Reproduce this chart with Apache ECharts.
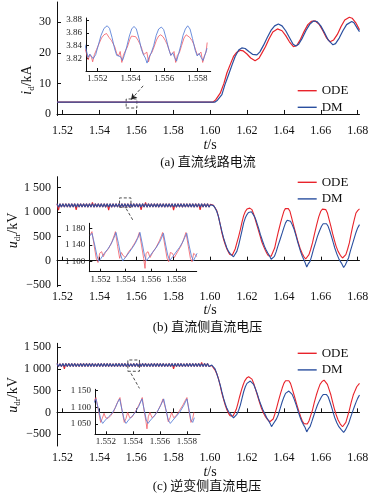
<!DOCTYPE html>
<html><head><meta charset="utf-8">
<script src="https://cdn.jsdelivr.net/npm/echarts@6/dist/echarts.min.js"></script>
<style>html,body{margin:0;padding:0;background:#fff}#c{width:373px;height:499px}</style>
</head><body><div id="c"></div>
<script>
// ---------- tick labels ----------
const xTicks = [1.52,1.54,1.56,1.58,1.60,1.62,1.64,1.66,1.68];
const insetXTicks = [1.552,1.554,1.556,1.558];
const yTicksA = [0,10,20,30];
const yTicksBC = [-500,0,500,1000,1500];
const insetYTicksA = [3.82,3.84,3.86,3.88];
const insetYTicksB = [1100,1140,1180];
const insetYTicksC = [1050,1100,1150];
const seriesNames = ['ODE','DM'];

// ---------- (a) DC line current, kA ----------
const odeA = [[1.517,3.84],[1.560,3.84],[1.6015,3.84],[1.603,4.6],[1.6055,6.8],[1.6075,10],[1.6091,13.4],[1.611,16.3],[1.6127,18.8],[1.6145,20.2],[1.6165,20.8],[1.618,20.6],[1.620,19.6],[1.622,18.3],[1.6244,17.4],[1.6265,18.2],[1.628,19.8],[1.630,22.0],[1.632,24.6],[1.634,26.8],[1.6365,27.8],[1.639,27.2],[1.641,25.6],[1.643,23.6],[1.6452,22.0],[1.647,22.4],[1.649,24.4],[1.651,27.0],[1.653,29.2],[1.655,30.3],[1.657,30.4],[1.659,29.4],[1.661,27.4],[1.663,25.0],[1.665,23.6],[1.667,24.2],[1.669,26.0],[1.671,28.6],[1.673,30.7],[1.6755,31.6],[1.677,31.3],[1.679,29.8],[1.681,27.5]];
const dmA = [[1.517,3.84],[1.560,3.84],[1.6025,3.84],[1.604,4.5],[1.6064,6.3],[1.608,9.5],[1.610,12.8],[1.612,16.2],[1.6136,18.8],[1.6155,20.9],[1.6172,21.6],[1.619,21.4],[1.621,20.4],[1.623,19.5],[1.6254,19.3],[1.627,20.3],[1.629,22.5],[1.631,25.0],[1.633,27.3],[1.635,28.8],[1.637,29.4],[1.639,28.8],[1.641,27.2],[1.643,25.0],[1.645,22.8],[1.6465,22.2],[1.648,22.8],[1.650,24.8],[1.652,27.3],[1.654,29.3],[1.656,30.4],[1.658,30.2],[1.660,28.8],[1.662,26.6],[1.664,24.2],[1.6666,22.6],[1.668,23.0],[1.670,24.8],[1.672,27.2],[1.674,29.2],[1.6768,30.2],[1.678,29.8],[1.680,27.8],[1.681,26.9]];
const insOdeA = [[1.55125,3.836],[1.55135,3.828],[1.55145,3.818],[1.55155,3.826],[1.55165,3.822],[1.55172,3.815],[1.55182,3.826],[1.55195,3.834],[1.55210,3.843],[1.55225,3.852],[1.55240,3.857],[1.55255,3.859],[1.55270,3.853],[1.55285,3.848],[1.55295,3.843],[1.55305,3.838],[1.55316,3.828],[1.55327,3.824],[1.55337,3.831],[1.55347,3.814],[1.55357,3.826],[1.55368,3.829],[1.55380,3.838],[1.55395,3.850],[1.55405,3.855],[1.55416,3.857],[1.55430,3.854],[1.55445,3.848],[1.55455,3.843],[1.55466,3.836],[1.55477,3.826],[1.55488,3.824],[1.55497,3.830],[1.55507,3.815],[1.55517,3.826],[1.55528,3.830],[1.55540,3.838],[1.55555,3.849],[1.55568,3.855],[1.55580,3.857],[1.55594,3.854],[1.55608,3.848],[1.55619,3.842],[1.55630,3.834],[1.55641,3.825],[1.55652,3.826],[1.55660,3.831],[1.55670,3.814],[1.55680,3.825],[1.55692,3.829],[1.55705,3.840],[1.55720,3.852],[1.55733,3.857],[1.55740,3.859],[1.55754,3.853],[1.55768,3.848],[1.55779,3.842],[1.55790,3.833],[1.55801,3.825],[1.55812,3.828],[1.55822,3.830],[1.55832,3.814],[1.55842,3.824],[1.55852,3.830],[1.55859,3.845]];
const insDmA = [[1.55125,3.842],[1.55135,3.832],[1.55145,3.822],[1.55155,3.827],[1.55165,3.826],[1.55175,3.820],[1.55190,3.826],[1.55205,3.840],[1.55222,3.856],[1.55240,3.867],[1.55259,3.871],[1.55273,3.867],[1.55288,3.853],[1.55304,3.835],[1.55316,3.825],[1.55327,3.828],[1.55339,3.823],[1.55351,3.817],[1.55362,3.825],[1.55376,3.838],[1.55392,3.855],[1.55406,3.866],[1.55420,3.870],[1.55434,3.866],[1.55449,3.852],[1.55465,3.834],[1.55477,3.826],[1.55488,3.821],[1.55498,3.813],[1.55510,3.822],[1.55522,3.828],[1.55538,3.840],[1.55553,3.856],[1.55568,3.866],[1.55584,3.869],[1.55598,3.865],[1.55613,3.851],[1.55629,3.834],[1.55641,3.825],[1.55652,3.829],[1.55663,3.822],[1.55675,3.816],[1.55686,3.826],[1.55700,3.840],[1.55714,3.856],[1.55728,3.866],[1.55742,3.871],[1.55756,3.866],[1.55771,3.851],[1.55787,3.833],[1.55799,3.824],[1.55810,3.828],[1.55822,3.822],[1.55834,3.817],[1.55846,3.826],[1.55858,3.836]];

// ---------- steady-state ripple band sample times (shared by (b),(c)) ----------
const tBand = [1.5170,1.5178,1.5186,1.5194,1.5202,1.5210,1.5218,1.5226,1.5234,1.5242,
1.5250,1.5258,1.5266,1.5274,1.5282,1.5290,1.5298,1.5306,1.5314,1.5322,
1.5330,1.5338,1.5346,1.5354,1.5362,1.5370,1.5378,1.5386,1.5394,1.5402,
1.5410,1.5418,1.5426,1.5434,1.5442,1.5450,1.5458,1.5466,1.5474,1.5482,
1.5490,1.5498,1.5506,1.5514,1.5522,1.5530,1.5538,1.5546,1.5554,1.5562,
1.5570,1.5578,1.5586,1.5594,1.5602,1.5610,1.5618,1.5626,1.5634,1.5642,
1.5650,1.5658,1.5666,1.5674,1.5682,1.5690,1.5698,1.5706,1.5714,1.5722,
1.5730,1.5738,1.5746,1.5754,1.5762,1.5770,1.5778,1.5786,1.5794,1.5802,
1.5810,1.5818,1.5826,1.5834,1.5842,1.5850,1.5858,1.5866,1.5874,1.5882,
1.5890,1.5898,1.5906,1.5914,1.5922,1.5930,1.5938,1.5946,1.5954,1.5962,
1.5970,1.5978,1.5986,1.5994,1.6002];

// ---------- (b) rectifier-side DC voltage, kV ----------
const bandDmB = [1170,1100,1168,1102,1170,1100,1172,1101,1169,1100,
1170,1102,1170,1100,1168,1101,1171,1100,1170,1102,
1169,1100,1170,1101,1172,1100,1168,1102,1170,1100,
1170,1101,1169,1100,1171,1102,1170,1100,1168,1101,
1170,1100,1172,1102,1169,1100,1170,1101,1170,1100,
1168,1102,1171,1100,1170,1101,1169,1100,1170,1102,
1172,1100,1168,1101,1170,1100,1170,1102,1169,1100,
1171,1101,1170,1100,1168,1102,1170,1100,1172,1101,
1169,1100,1170,1102,1170,1100,1168,1101,1171,1100,
1170,1102,1169,1100,1170,1101,1172,1100,1168,1102,
1170,1100,1170,1101,1150];
const bandOdeB = [1170,1040,1168,1102,1170,1100,1172,1101,1169,1100,
1170,1102,1170,1045,1168,1101,1171,1100,1170,1102,
1169,1100,1170,1101,1200,1100,1168,1102,1170,1100,
1170,1101,1169,1100,1171,1040,1170,1100,1168,1101,
1170,1100,1172,1102,1169,1100,1170,1101,1170,1100,
1168,1102,1171,1100,1170,1101,1169,1045,1170,1102,
1195,1100,1168,1101,1170,1100,1170,1102,1169,1100,
1171,1101,1170,1100,1168,1102,1170,1100,1172,1040,
1169,1100,1170,1102,1170,1100,1168,1101,1171,1100,
1170,1102,1169,1100,1170,1101,1172,1045,1168,1102,
1170,1100,1170,1101,1160];
const postOdeB = [[1.6009,1150],[1.6018,1140],[1.6027,1117],[1.6036,1030],[1.6045,912],[1.6055,740],[1.6064,570],[1.6073,440],[1.6082,329],[1.6091,240],[1.6100,171],[1.6107,125],[1.6113,103],[1.6120,110],[1.6127,144],[1.6136,240],[1.6145,364],[1.6155,500],[1.6164,638],[1.6173,790],[1.6182,926],[1.6191,1010],[1.6200,1060],[1.6206,1084],[1.6215,1080],[1.6227,1049],[1.6236,960],[1.6245,844],[1.6257,690],[1.6269,535],[1.6279,400],[1.6290,294],[1.6300,210],[1.6309,144],[1.6316,100],[1.6322,76],[1.6331,90],[1.6340,123],[1.6350,260],[1.6360,432],[1.6371,610],[1.6382,776],[1.6391,900],[1.6400,1015],[1.6408,1070],[1.6415,1097],[1.6424,1070],[1.6433,1015],[1.6443,870],[1.6454,706],[1.6465,550],[1.6476,397],[1.6488,250],[1.6500,144],[1.6509,80],[1.6518,35],[1.6527,60],[1.6536,123],[1.6545,230],[1.6555,364],[1.6566,550],[1.6578,741],[1.6589,900],[1.6600,1015],[1.6609,1060],[1.6618,1084],[1.6627,1050],[1.6636,981],[1.6645,850],[1.6655,706],[1.6664,560],[1.6673,432],[1.6683,300],[1.6694,191],[1.6706,110],[1.6718,55],[1.6727,70],[1.6736,123],[1.6745,230],[1.6755,364],[1.6764,540],[1.6773,706],[1.6782,850],[1.6791,981],[1.6800,1030],[1.6810,1063]];
const postDmB = [[1.6009,1140],[1.6018,1132],[1.6027,1084],[1.6036,1015],[1.6045,912],[1.6055,741],[1.6064,600],[1.6073,467],[1.6082,360],[1.6091,261],[1.6100,190],[1.6109,144],[1.6118,115],[1.6127,80],[1.6136,120],[1.6145,191],[1.6155,320],[1.6164,467],[1.6173,620],[1.6182,776],[1.6191,880],[1.6200,947],[1.6208,990],[1.6215,1015],[1.6224,1005],[1.6233,981],[1.6242,900],[1.6251,809],[1.6262,680],[1.6273,535],[1.6284,410],[1.6295,294],[1.6304,220],[1.6313,158],[1.6322,100],[1.6331,30],[1.6340,60],[1.6349,90],[1.6358,180],[1.6367,294],[1.6379,430],[1.6391,570],[1.6400,680],[1.6409,776],[1.6418,830],[1.6427,844],[1.6436,810],[1.6445,741],[1.6455,650],[1.6464,535],[1.6473,410],[1.6482,294],[1.6491,180],[1.6500,90],[1.6512,-10],[1.6524,-130],[1.6533,-60],[1.6542,-14],[1.6551,100],[1.6560,226],[1.6571,360],[1.6582,500],[1.6593,610],[1.6604,706],[1.6613,760],[1.6622,788],[1.6631,760],[1.6640,706],[1.6649,610],[1.6658,500],[1.6667,380],[1.6676,261],[1.6688,130],[1.6700,21],[1.6712,-50],[1.6724,-140],[1.6733,-90],[1.6742,-49],[1.6751,60],[1.6760,191],[1.6771,330],[1.6782,467],[1.6791,580],[1.6800,673],[1.6810,741]];
const insOdeB = [[1.55117,1164],[1.55132,1172],[1.55151,1136],[1.55167,1106],[1.55180,1098],[1.55193,1120],[1.55209,1124],[1.55222,1112],[1.55238,1122],[1.55265,1132],[1.55291,1148],[1.55310,1164],[1.55318,1172],[1.55336,1136],[1.55352,1108],[1.55365,1122],[1.55381,1114],[1.55397,1110],[1.55424,1124],[1.55450,1134],[1.55476,1147],[1.55495,1158],[1.55508,1170],[1.55526,1138],[1.55542,1108],[1.55553,1084],[1.55561,1120],[1.55577,1124],[1.55593,1110],[1.55614,1122],[1.55640,1134],[1.55667,1150],[1.55683,1162],[1.55693,1170],[1.55712,1136],[1.55728,1108],[1.55741,1100],[1.55754,1122],[1.55770,1120],[1.55786,1110],[1.55812,1124],[1.55839,1138],[1.55860,1154],[1.55878,1170],[1.55897,1136],[1.55913,1108],[1.55926,1100],[1.55939,1120],[1.55953,1122],[1.55966,1112]];
const insDmB = [[1.55117,1162],[1.55132,1168],[1.55154,1140],[1.55172,1114],[1.55185,1101],[1.55204,1108],[1.55230,1120],[1.55257,1130],[1.55283,1142],[1.55305,1156],[1.55323,1170],[1.55342,1144],[1.55360,1116],[1.55376,1102],[1.55397,1110],[1.55424,1121],[1.55450,1132],[1.55476,1144],[1.55495,1156],[1.55513,1170],[1.55532,1142],[1.55548,1116],[1.55564,1102],[1.55588,1112],[1.55614,1123],[1.55640,1133],[1.55667,1146],[1.55683,1156],[1.55699,1168],[1.55717,1140],[1.55733,1116],[1.55749,1103],[1.55773,1112],[1.55799,1123],[1.55826,1134],[1.55852,1147],[1.55868,1158],[1.55884,1168],[1.55902,1140],[1.55921,1114],[1.55937,1102],[1.55953,1112],[1.55966,1120]];

// ---------- (c) inverter-side DC voltage, kV ----------
const bandDmC = [1125,1055,1123,1057,1125,1055,1127,1056,1124,1055,
1125,1057,1125,1055,1123,1056,1126,1055,1125,1057,
1124,1055,1125,1056,1127,1055,1123,1057,1125,1055,
1125,1056,1124,1055,1126,1057,1125,1055,1123,1056,
1125,1055,1127,1057,1124,1055,1125,1056,1125,1055,
1123,1057,1126,1055,1125,1056,1124,1055,1125,1057,
1127,1055,1123,1056,1125,1055,1125,1057,1124,1055,
1126,1056,1125,1055,1123,1057,1125,1055,1127,1056,
1124,1055,1125,1057,1125,1055,1123,1056,1126,1055,
1125,1057,1124,1055,1125,1056,1127,1055,1123,1057,
1125,1055,1125,1056,1100];
const bandOdeC = [1125,1055,1123,1057,1125,1000,1127,1056,1124,1055,
1125,1057,1125,1055,1123,1056,1126,1055,1125,1057,
1124,1055,1125,1056,1127,1055,1123,1057,1125,1055,
1125,1056,1124,1055,1126,1057,1125,1055,1123,1056,
1125,1055,1127,1057,1124,1055,1125,1056,1125,1055,
1123,1057,1126,1055,1125,1056,1124,1055,1125,1057,
1127,1055,1123,1056,1125,1055,1125,1057,1124,1055,
1126,1056,1125,1055,1123,1057,1125,1055,1127,1000,
1124,1055,1125,1057,1125,1055,1123,1056,1126,1055,
1125,1057,1124,1055,1125,1056,1127,1055,1150,1057,
1125,1055,1125,1056,1100];
const postOdeC = [[1.6009,1080],[1.6018,1050],[1.6027,975],[1.6036,890],[1.6045,783],[1.6055,610],[1.6064,438],[1.6073,300],[1.6082,168],[1.6091,60],[1.6100,-23],[1.6108,-75],[1.6115,-101],[1.6124,-90],[1.6133,-46],[1.6142,70],[1.6151,207],[1.6160,360],[1.6170,514],[1.6179,630],[1.6187,721],[1.6198,790],[1.6209,820],[1.6218,805],[1.6227,767],[1.6236,670],[1.6245,553],[1.6256,400],[1.6267,244],[1.6278,100],[1.6290,-23],[1.6300,-100],[1.6309,-154],[1.6316,-195],[1.6324,-217],[1.6333,-200],[1.6342,-154],[1.6351,-40],[1.6360,92],[1.6371,270],[1.6382,438],[1.6391,560],[1.6400,668],[1.6409,730],[1.6418,760],[1.6427,730],[1.6436,668],[1.6447,520],[1.6458,359],[1.6470,180],[1.6482,14],[1.6491,-100],[1.6500,-200],[1.6509,-260],[1.6518,-293],[1.6527,-270],[1.6536,-200],[1.6545,-80],[1.6555,53],[1.6565,230],[1.6576,399],[1.6586,530],[1.6596,645],[1.6607,710],[1.6618,744],[1.6627,710],[1.6636,645],[1.6645,530],[1.6655,399],[1.6664,240],[1.6673,92],[1.6683,-50],[1.6694,-177],[1.6706,-270],[1.6718,-332],[1.6727,-300],[1.6736,-231],[1.6745,-100],[1.6755,53],[1.6765,230],[1.6776,399],[1.6786,500],[1.6795,590],[1.6810,668]];
const postDmC = [[1.6009,1090],[1.6018,1060],[1.6027,1000],[1.6036,899],[1.6045,770],[1.6055,629],[1.6064,470],[1.6073,322],[1.6082,200],[1.6091,92],[1.6100,20],[1.6109,-23],[1.6118,-80],[1.6127,-130],[1.6136,-85],[1.6145,-46],[1.6155,50],[1.6164,168],[1.6173,320],[1.6182,475],[1.6191,590],[1.6200,668],[1.6209,705],[1.6218,721],[1.6227,700],[1.6236,645],[1.6245,550],[1.6255,438],[1.6265,300],[1.6276,168],[1.6288,40],[1.6300,-62],[1.6309,-140],[1.6318,-200],[1.6326,-260],[1.6333,-330],[1.6342,-270],[1.6351,-231],[1.6360,-150],[1.6369,-62],[1.6380,90],[1.6391,244],[1.6400,350],[1.6409,438],[1.6418,480],[1.6427,491],[1.6436,470],[1.6445,414],[1.6456,300],[1.6467,168],[1.6477,30],[1.6487,-101],[1.6496,-200],[1.6505,-277],[1.6515,-350],[1.6524,-450],[1.6533,-380],[1.6542,-331],[1.6551,-220],[1.6560,-101],[1.6571,40],[1.6582,168],[1.6593,270],[1.6604,359],[1.6613,410],[1.6622,438],[1.6631,410],[1.6640,359],[1.6649,250],[1.6658,130],[1.6667,0],[1.6676,-124],[1.6687,-240],[1.6698,-331],[1.6711,-400],[1.6724,-460],[1.6733,-410],[1.6742,-370],[1.6751,-260],[1.6760,-139],[1.6771,0],[1.6782,130],[1.6791,230],[1.6800,322],[1.6810,399]];
const insOdeC = [[1.55110,1117],[1.55127,1129],[1.55147,1087],[1.55162,1055],[1.55174,1067],[1.55187,1082],[1.55199,1069],[1.55216,1067],[1.55236,1075],[1.55258,1087],[1.55278,1107],[1.55295,1122],[1.55305,1129],[1.55322,1087],[1.55337,1055],[1.55350,1067],[1.55362,1085],[1.55377,1069],[1.55394,1071],[1.55419,1087],[1.55443,1105],[1.55463,1122],[1.55470,1129],[1.55485,1087],[1.55498,1057],[1.55505,1036],[1.55515,1072],[1.55527,1085],[1.55542,1069],[1.55562,1075],[1.55587,1091],[1.55609,1109],[1.55624,1125],[1.55632,1129],[1.55649,1087],[1.55663,1057],[1.55676,1069],[1.55688,1085],[1.55703,1069],[1.55722,1075],[1.55747,1091],[1.55772,1107],[1.55791,1122],[1.55801,1129],[1.55817,1087],[1.55831,1055],[1.55844,1067],[1.55853,1085]];
const insDmC = [[1.55110,1112],[1.55127,1125],[1.55147,1092],[1.55164,1062],[1.55177,1052],[1.55197,1062],[1.55221,1072],[1.55246,1082],[1.55271,1099],[1.55288,1115],[1.55303,1125],[1.55320,1092],[1.55337,1062],[1.55350,1052],[1.55369,1062],[1.55394,1073],[1.55419,1085],[1.55443,1102],[1.55468,1125],[1.55485,1092],[1.55500,1062],[1.55513,1052],[1.55532,1062],[1.55557,1073],[1.55582,1087],[1.55606,1105],[1.55629,1125],[1.55646,1092],[1.55663,1062],[1.55678,1052],[1.55698,1062],[1.55722,1073],[1.55747,1085],[1.55777,1105],[1.55801,1125],[1.55817,1092],[1.55831,1062],[1.55844,1055],[1.55856,1069]];

// ---------- zoom annotations (data coordinates) ----------
const boxA = [[1.5545,1.95],[1.5603,4.9]];   const pointerA = [[1.5637,9.2],[1.5571,4.66]];
const boxB = [[1.5509,1097],[1.5571,1290]];  const pointerB = [[1.5545,1070],[1.5585,809]];
const boxC = [[1.5554,947],[1.5617,1207]];   const pointerC = [[1.5571,899],[1.5617,553]];

// ================= build =================
const SERIF = "'Liberation Serif','DejaVu Serif',serif";
const CAP = "'Liberation Serif','Noto Sans CJK SC',serif";
const RED='#e8232b', BLUE='#2a4f9f', RED_L='rgba(242,90,100,0.8)', BLUE_L='rgba(85,125,215,0.85)';
const zip = (ts, vs) => ts.map((t,i)=>[t,vs[i]]);
const fmtK = v => { const a=Math.abs(Math.round(v)); const s = a>=1000 ? Math.floor(a/1000)+' '+String(a%1000).padStart(3,'0') : String(a); return (v<0?'\u2212':'')+s; };

const grids = [
  {left:57, top:2, width:302.5, height:113.5},
  {left:57, top:176.7, width:302.5, height:110},
  {left:57, top:343.3, width:302.5, height:102.7},
  {left:86, top:18, width:124.7, height:53},
  {left:89.3, top:223.3, width:107.4, height:48.4},
  {left:95, top:389.3, width:105, height:45}
];
const axLine = {lineStyle:{color:'#111', width:1}};
function xMain(gi, margin){ return {gridIndex:gi, type:'value', min:1.517, max:1.681, axisLine:axLine,
  axisTick:{inside:true, length:4, customValues:xTicks, lineStyle:{color:'#111'}},
  axisLabel:{customValues:xTicks, formatter:v=>v.toFixed(2), fontFamily:SERIF, fontSize:12, color:'#111', margin},
  splitLine:{show:false}}; }
function yMain(gi, mn, mx, ticks, fmt){ return {gridIndex:gi, type:'value', min:mn, max:mx, axisLine:{show:true, ...axLine},
  axisTick:{show:true, inside:true, length:4, customValues:ticks, lineStyle:{color:'#111'}},
  axisLabel:{customValues:ticks, formatter:fmt, fontFamily:SERIF, fontSize:12, color:'#111', margin:6},
  splitLine:{show:false}}; }
function xIns(gi, mn, mx){ return {gridIndex:gi, type:'value', min:mn, max:mx, axisLine:axLine,
  axisTick:{inside:true, length:3, customValues:insetXTicks, lineStyle:{color:'#111'}},
  axisLabel:{customValues:insetXTicks, formatter:v=>v.toFixed(3), fontFamily:SERIF, fontSize:9, color:'#222', margin:3},
  splitLine:{show:false}}; }
function yIns(gi, mn, mx, ticks, fmt){ return {gridIndex:gi, type:'value', min:mn, max:mx, axisLine:{show:true, ...axLine},
  axisTick:{show:true, inside:true, length:3, customValues:ticks, lineStyle:{color:'#111'}},
  axisLabel:{customValues:ticks, formatter:fmt, fontFamily:SERIF, fontSize:9, color:'#222', margin:4},
  splitLine:{show:false}}; }

function line(name, gi, data, color, w, extra){ return Object.assign({type:'line', name, xAxisIndex:gi, yAxisIndex:gi, data,
  symbol:'none', showSymbol:false, lineStyle:{color, width:w}, itemStyle:{color}, emphasis:{disabled:true}, z:2}, extra||{}); }
const annStyle = {color:'#222', width:0.8, type:[3,2]};
function marks(box, ptr, arrow){ return {
  markArea:{silent:true, itemStyle:{color:'rgba(0,0,0,0)', borderColor:'#222', borderWidth:0.8, borderType:[3,2]},
    data:[[{coord:box[0]},{coord:box[1]}]]},
  markLine:{silent:true, symbol:arrow?['none','arrow']:['none','none'], symbolSize:[5,6], lineStyle:annStyle, label:{show:false},
    data:[[{coord:ptr[0]},{coord:ptr[1]}]]}
}; }

const series = [
  line('ODE',0,odeA,RED,1.2),
  line('DM',0,dmA,BLUE,1.2, marks(boxA,pointerA,true)),
  line('ODE',1,zip(tBand,bandOdeB).concat(postOdeB),RED,1.1),
  line('DM',1,zip(tBand,bandDmB).concat(postDmB),BLUE,1.1, marks(boxB,pointerB,false)),
  line('ODE',2,zip(tBand,bandOdeC).concat(postOdeC),RED,1.1),
  line('DM',2,zip(tBand,bandDmC).concat(postDmC),BLUE,1.1, marks(boxC,pointerC,false)),
  line('ODE',3,insOdeA,RED_L,1),
  line('DM',3,insDmA,BLUE_L,1),
  line('ODE',4,insOdeB,RED_L,1),
  line('DM',4,insDmB,BLUE_L,1),
  line('ODE',5,insOdeC,RED_L,1),
  line('DM',5,insDmC,BLUE_L,1)
];

function legend(top){ return {top, left:297.7, padding:0, orient:'vertical', icon:'rect', itemWidth:19, itemHeight:1.4, itemGap:3.6,
  data:seriesNames, selectedMode:false, textStyle:{fontFamily:SERIF, fontSize:13, lineHeight:13, color:'#111'}}; }

const richName = {
  n:{fontFamily:SERIF, fontSize:14, color:'#111', lineHeight:18},
  i:{fontFamily:SERIF, fontStyle:'italic', fontSize:14, color:'#111', lineHeight:18},
  s:{fontFamily:SERIF, fontSize:9, color:'#111', lineHeight:10, verticalAlign:'bottom'}
};
function txt(x, y, text, rot, rich, font){ return {type:'text', x, y, rotation:rot||0, silent:true,
  style:{text, align:'center', verticalAlign:'middle', fill:'#111', font: font || ('14px '+SERIF), rich}}; }

const graphic = [
  txt(27.5, 80, '{i|i}{s|d}{n|/kA}', Math.PI/2, richName),
  txt(13, 230.5, '{i|u}{s|dr}{n|/kV}', Math.PI/2, richName),
  txt(13, 395, '{i|u}{s|dr}{n|/kV}', Math.PI/2, richName),
  txt(210, 145, '{i|t}{n|/s}', 0, richName),
  txt(210, 310.7, '{i|t}{n|/s}', 0, richName),
  txt(210, 472.7, '{i|t}{n|/s}', 0, richName),
  txt(208, 163, '(a) 直流线路电流', 0, null, '13px '+CAP),
  txt(207.5, 328, '(b) 直流侧直流电压', 0, null, '13px '+CAP),
  txt(207, 487, '(c) 逆变侧直流电压', 0, null, '13px '+CAP)
];

const chart = echarts.init(document.getElementById('c'), null, {renderer:'canvas', width:373, height:499});
chart.setOption({
  animation:false,
  backgroundColor:'#fff',
  grid: grids,
  xAxis:[xMain(0,9), xMain(1,3.8), xMain(2,6.2), xIns(3,1.55132,1.5588), xIns(4,1.55111,1.55963), xIns(5,1.5512,1.55898)],
  yAxis:[
    yMain(0,-0.5,36.6,yTicksA,v=>String(v)),
    yMain(1,-535,1726,yTicksBC,fmtK),
    yMain(2,-776,1592,yTicksBC,fmtK),
    yIns(3,3.8007,3.8831,insetYTicksA,v=>v.toFixed(2)),
    yIns(4,1076,1192,insetYTicksB,fmtK),
    yIns(5,1019.6,1153.6,insetYTicksC,fmtK)
  ],
  legend:[legend(84.2), legend(175.8), legend(346.8)],
  series,
  graphic
});
</script></body></html>
